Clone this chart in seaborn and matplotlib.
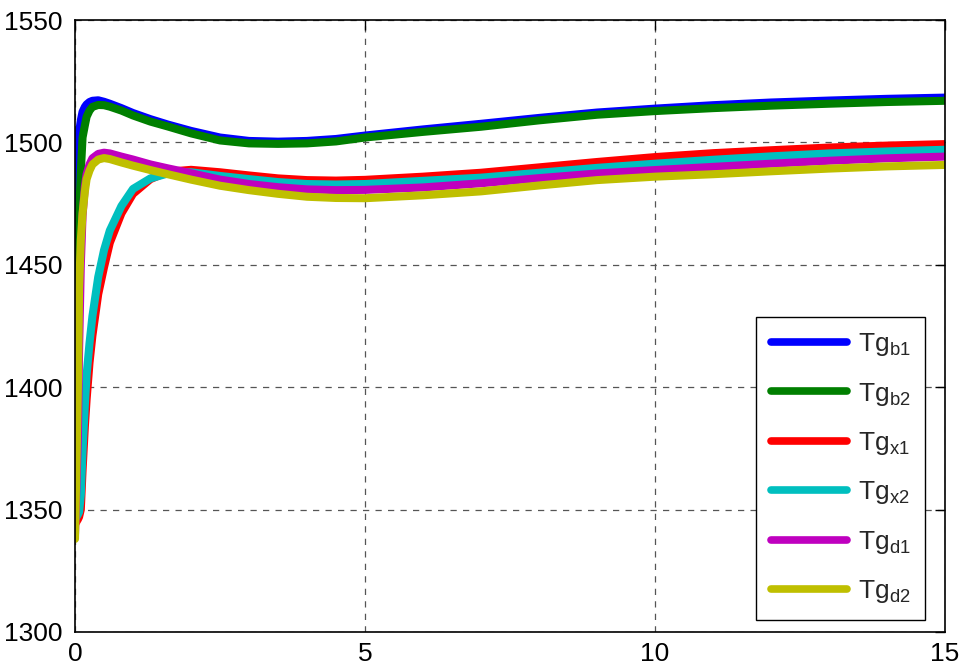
import numpy as np
import pandas as pd
import matplotlib
matplotlib.use("Agg")
import matplotlib.pyplot as plt
from matplotlib.lines import Line2D
import seaborn as sns

# Simulation time (s)
t = [0, 0.05, 0.07, 0.1, 0.13, 0.17, 0.2, 0.25, 0.3, 0.4, 0.5, 0.6, 0.8, 1.0,
     1.3, 1.6, 2.0, 2.5, 3.0, 3.5, 4.0, 4.5, 5, 6, 7, 8, 9, 10, 11, 12, 13, 14, 15]

# Gas temperatures for each branch
tg_b1 = [1440, 1495, 1504, 1509, 1512.5, 1514.5, 1515.5, 1516.5, 1517, 1517.2, 1516.6,
         1515.8, 1514, 1512, 1509.5, 1507.3, 1504.7, 1502, 1500.6, 1500.3, 1500.6, 1501.4,
         1502.8, 1505.3, 1507.6, 1510, 1512.2, 1513.8, 1515.2, 1516.3, 1517.1, 1517.8, 1518.3]
tg_b2 = [1415, 1450, 1470, 1488, 1502, 1507, 1510.5, 1513, 1514.5, 1515.3, 1515.2,
         1514.6, 1513, 1511, 1508.5, 1506.5, 1503.7, 1500.8, 1499.6, 1499.4, 1499.6, 1500.4,
         1502, 1504.3, 1506.4, 1509, 1511.3, 1512.8, 1514, 1515, 1515.8, 1516.5, 1517]
tg_x1 = [1344, 1346, 1347, 1350, 1366, 1384, 1395, 1410, 1421, 1438, 1449,
         1459, 1471, 1479, 1485, 1488, 1488.8, 1487.8, 1486.5, 1485.3, 1484.6, 1484.4,
         1484.7, 1486, 1487.6, 1489.8, 1492, 1494, 1495.6, 1496.8, 1497.9, 1498.7, 1499.3]
tg_x2 = [1346, 1348, 1349, 1356, 1374, 1393, 1405, 1418, 1429, 1445, 1456,
         1464, 1474, 1481, 1485.3, 1487.3, 1487.8, 1486.3, 1485, 1483.8, 1483, 1482.8,
         1483, 1484.3, 1485.6, 1487.6, 1489.6, 1491.3, 1492.9, 1494.3, 1495.5, 1496.3, 1497]
tg_d1 = [1340, 1380, 1415, 1450, 1470, 1482, 1487, 1491, 1493.5, 1495.3, 1495.8,
         1495.5, 1494.2, 1493, 1491, 1489.4, 1487.4, 1484.8, 1483, 1481.7, 1480.8, 1480.5,
         1480.6, 1481.6, 1483.3, 1485.4, 1487.3, 1488.7, 1490, 1491.3, 1492.5, 1493.5, 1494.2]
tg_d2 = [1338, 1400, 1440, 1460, 1471, 1480, 1485, 1488.5, 1491, 1493, 1493.6,
         1493.2, 1491.8, 1490.5, 1488.7, 1487, 1484.8, 1482.3, 1480.5, 1479, 1477.8, 1477.3,
         1477.2, 1478.4, 1480, 1482.4, 1484.6, 1486, 1487, 1488.2, 1489.3, 1490.2, 1490.8]

labels = [r"Tg$_{\mathrm{b1}}$", r"Tg$_{\mathrm{b2}}$", r"Tg$_{\mathrm{x1}}$",
          r"Tg$_{\mathrm{x2}}$", r"Tg$_{\mathrm{d1}}$", r"Tg$_{\mathrm{d2}}$"]
colors = ["#0000ff", "#007f00", "#ff0000", "#00bfbf", "#bf00bf", "#bfbf00"]
series = [tg_b1, tg_b2, tg_x1, tg_x2, tg_d1, tg_d2]

x_ticks = [0, 5, 10, 15]
y_ticks = [1300, 1350, 1400, 1450, 1500, 1550]

df = pd.concat(
    [pd.DataFrame({"t": t, "Tg": s, "name": lab}) for s, lab in zip(series, labels)],
    ignore_index=True,
)

sns.set_style("white")
plt.rcParams["font.family"] = ["Liberation Sans", "DejaVu Sans"]
plt.rcParams["mathtext.fontset"] = "custom"
plt.rcParams["mathtext.rm"] = "Liberation Sans"
plt.rcParams["mathtext.it"] = "Liberation Sans:italic"
plt.rcParams["mathtext.bf"] = "Liberation Sans:bold"

fig = plt.figure(figsize=(9.63, 6.67), dpi=100)
ax = fig.add_axes([0.0779, 0.0525, 0.9034, 0.9175])

sns.lineplot(data=df, x="t", y="Tg", hue="name", hue_order=labels,
             palette=dict(zip(labels, colors)), estimator=None, sort=False,
             linewidth=5.8, legend=False, ax=ax)

ax.set_xlim(0, 15)
ax.set_ylim(1300, 1550)
ax.set_xticks(x_ticks)
ax.set_yticks(y_ticks)
ax.set_xlabel("")
ax.set_ylabel("")

ax.grid(True, linestyle=(0, (5, 5)), color="#555555", linewidth=0.9)
ax.set_axisbelow(True)

for sp in ax.spines.values():
    sp.set_color("black")
    sp.set_linewidth(1.2)

ax.tick_params(axis="both", direction="in", length=7, width=1.0,
               top=True, right=True, labelsize=19, colors="black")
ax.tick_params(axis="x", pad=7)
ax.tick_params(axis="y", pad=9)

handles = [Line2D([], [], color=c, linewidth=5.5) for c in colors]
leg = ax.legend(handles, labels, loc="lower right",
                bbox_to_anchor=(0.977, 0.02), borderaxespad=0.0, fontsize=19,
                handlelength=2.9, handletextpad=0.4, labelspacing=0.85,
                borderpad=0.55, fancybox=False,
                framealpha=1, edgecolor="black")
leg.get_frame().set_linewidth(1.0)

fig.savefig("out.png", dpi=100)
